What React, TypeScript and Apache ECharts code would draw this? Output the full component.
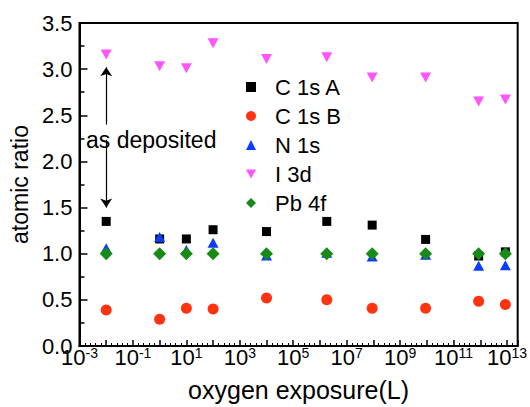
import React, { useEffect, useRef } from "react";
import * as echarts from "echarts";

const EXPOSURE = [0.01, 1, 10, 100, 1e4, 1.8e6, 9e7, 9e9, 8.7e11, 8.7e12];
const C1S_A = [1.35, 1.16, 1.16, 1.26, 1.24, 1.35, 1.31, 1.155, 0.975, 1.02];
const C1S_B = [0.39, 0.29, 0.41, 0.4, 0.52, 0.5, 0.41, 0.41, 0.485, 0.45];
const N1S = [1.06, 1.18, 1.04, 1.12, 0.98, 1.01, 0.97, 0.99, 0.87, 0.875];
const I3D = [3.16, 3.03, 3.01, 3.28, 3.11, 3.13, 2.91, 2.91, 2.65, 2.67];
const PB4F = [1, 1, 1, 1, 1, 1, 1, 1, 1, 1];
const SERIES_NAMES = ["C 1s A", "C 1s B", "N 1s", "I 3d", "Pb 4f"];
const ARROW_UP = [3.02, 2.4];
const ARROW_DOWN = [2.235, 1.5];

const FONT = "'Liberation Sans', Arial, sans-serif";

export default function App() {
  const ref = useRef<HTMLDivElement>(null);
  useEffect(() => {
    document.body.style.margin = "0";
    if (!ref.current) return;
    const chart = echarts.init(ref.current, null, { renderer: "svg" });
    const toPts = (vals: number[]) => EXPOSURE.map((x, i) => [Math.log10(x), vals[i]]);
    const x0 = Math.log10(EXPOSURE[0]);
    const base = { type: "scatter", silent: true, emphasis: { disabled: true } };
    chart.setOption({
      animation: false,
      textStyle: { fontFamily: FONT },
      grid: {
        left: 79,
        right: 8,
        top: 23,
        bottom: 60,
        show: true,
        borderColor: "#000",
        borderWidth: 2,
        containLabel: false,
      },
      legend: {
        orient: "vertical",
        left: 246,
        top: 76,
        padding: 0,
        itemWidth: 10,
        itemHeight: 10,
        itemGap: 7,
        selectedMode: false,
        textStyle: { fontSize: 22, color: "#000", fontFamily: FONT, lineHeight: 22, padding: [0, 0, 0, 14] },
        data: SERIES_NAMES,
      },
      xAxis: {
        type: "value",
        min: -3,
        max: 13.4,
        interval: 1,
        name: "oxygen exposure(L)",
        nameLocation: "middle",
        nameGap: 31,
        nameTextStyle: { fontSize: 25, color: "#000", fontFamily: FONT },
        splitLine: { show: false },
        axisLine: { onZero: false, lineStyle: { color: "#000", width: 2 } },
        axisTick: { inside: true, length: 6, lineStyle: { color: "#000", width: 1.5 } },
        minorTick: { show: true, splitNumber: 5, length: 3, lineStyle: { color: "#000", width: 1 } },
        axisLabel: {
          margin: 0,
          showMaxLabel: false,
          formatter: (v: number) => {
            const e = Math.round(v);
            if (Math.abs(v - e) > 1e-6 || Math.abs(e % 2) !== 1) return "";
            return `{b|10}{s|${e}}`;
          },
          rich: {
            b: { fontSize: 22, lineHeight: 22, padding: [8, 0, 0, 0], verticalAlign: "bottom", color: "#000", fontFamily: FONT },
            s: { fontSize: 14, lineHeight: 14, verticalAlign: "top", color: "#000", fontFamily: FONT },
          },
        },
      },
      yAxis: {
        type: "value",
        min: 0,
        max: 3.5,
        interval: 0.5,
        name: "atomic ratio",
        nameLocation: "middle",
        nameGap: 45,
        nameTextStyle: { fontSize: 23, color: "#000", fontFamily: FONT },
        splitLine: { show: false },
        axisLine: { onZero: false, lineStyle: { color: "#000", width: 2 } },
        axisTick: { inside: true, length: 8, lineStyle: { color: "#000", width: 1.5 } },
        minorTick: { show: true, splitNumber: 2, length: 5, lineStyle: { color: "#000", width: 1.5 } },
        axisLabel: {
          margin: 7,
          fontSize: 22,
          color: "#000",
          fontFamily: FONT,
          formatter: (v: number) => v.toFixed(1),
        },
      },
      series: [
        {
          ...base,
          name: SERIES_NAMES[0],
          symbol: "rect",
          symbolSize: 9,
          itemStyle: { color: "#000", opacity: 1 },
          data: toPts(C1S_A),
          markLine: {
            silent: true,
            symbol: ["none", "arrow"],
            symbolSize: 9,
            label: { show: false },
            emphasis: { disabled: true },
            lineStyle: { color: "#000", width: 1.2, type: "solid", opacity: 1 },
            data: [
              [{ coord: [x0, ARROW_UP[1]] }, { coord: [x0, ARROW_UP[0]] }],
              [{ coord: [x0, ARROW_DOWN[0]] }, { coord: [x0, ARROW_DOWN[1]] }],
            ],
          },
        },
        {
          ...base,
          name: SERIES_NAMES[1],
          symbol: "circle",
          symbolSize: 11,
          itemStyle: { color: "#ff3311", opacity: 1 },
          data: toPts(C1S_B),
        },
        {
          ...base,
          name: SERIES_NAMES[2],
          symbol: "triangle",
          symbolSize: [11, 10],
          itemStyle: { color: "#0a3cff", opacity: 1 },
          data: toPts(N1S),
        },
        {
          ...base,
          name: SERIES_NAMES[3],
          symbol: "path://M0,0L10,0L5,9Z",
          symbolSize: [11, 10],
          itemStyle: { color: "#ff55ff", opacity: 1 },
          data: toPts(I3D),
        },
        {
          ...base,
          name: SERIES_NAMES[4],
          symbol: "diamond",
          symbolSize: 13,
          itemStyle: { color: "#178a17", opacity: 1 },
          data: toPts(PB4F),
        },
      ],
      graphic: [
        {
          type: "text",
          left: 86,
          top: 128,
          silent: true,
          style: { text: "as deposited", fontSize: 23, fill: "#000", fontFamily: FONT },
        },
      ],
    });
    return () => chart.dispose();
  }, []);
  return <div ref={ref} style={{ width: 530, height: 407 }} />;
}
